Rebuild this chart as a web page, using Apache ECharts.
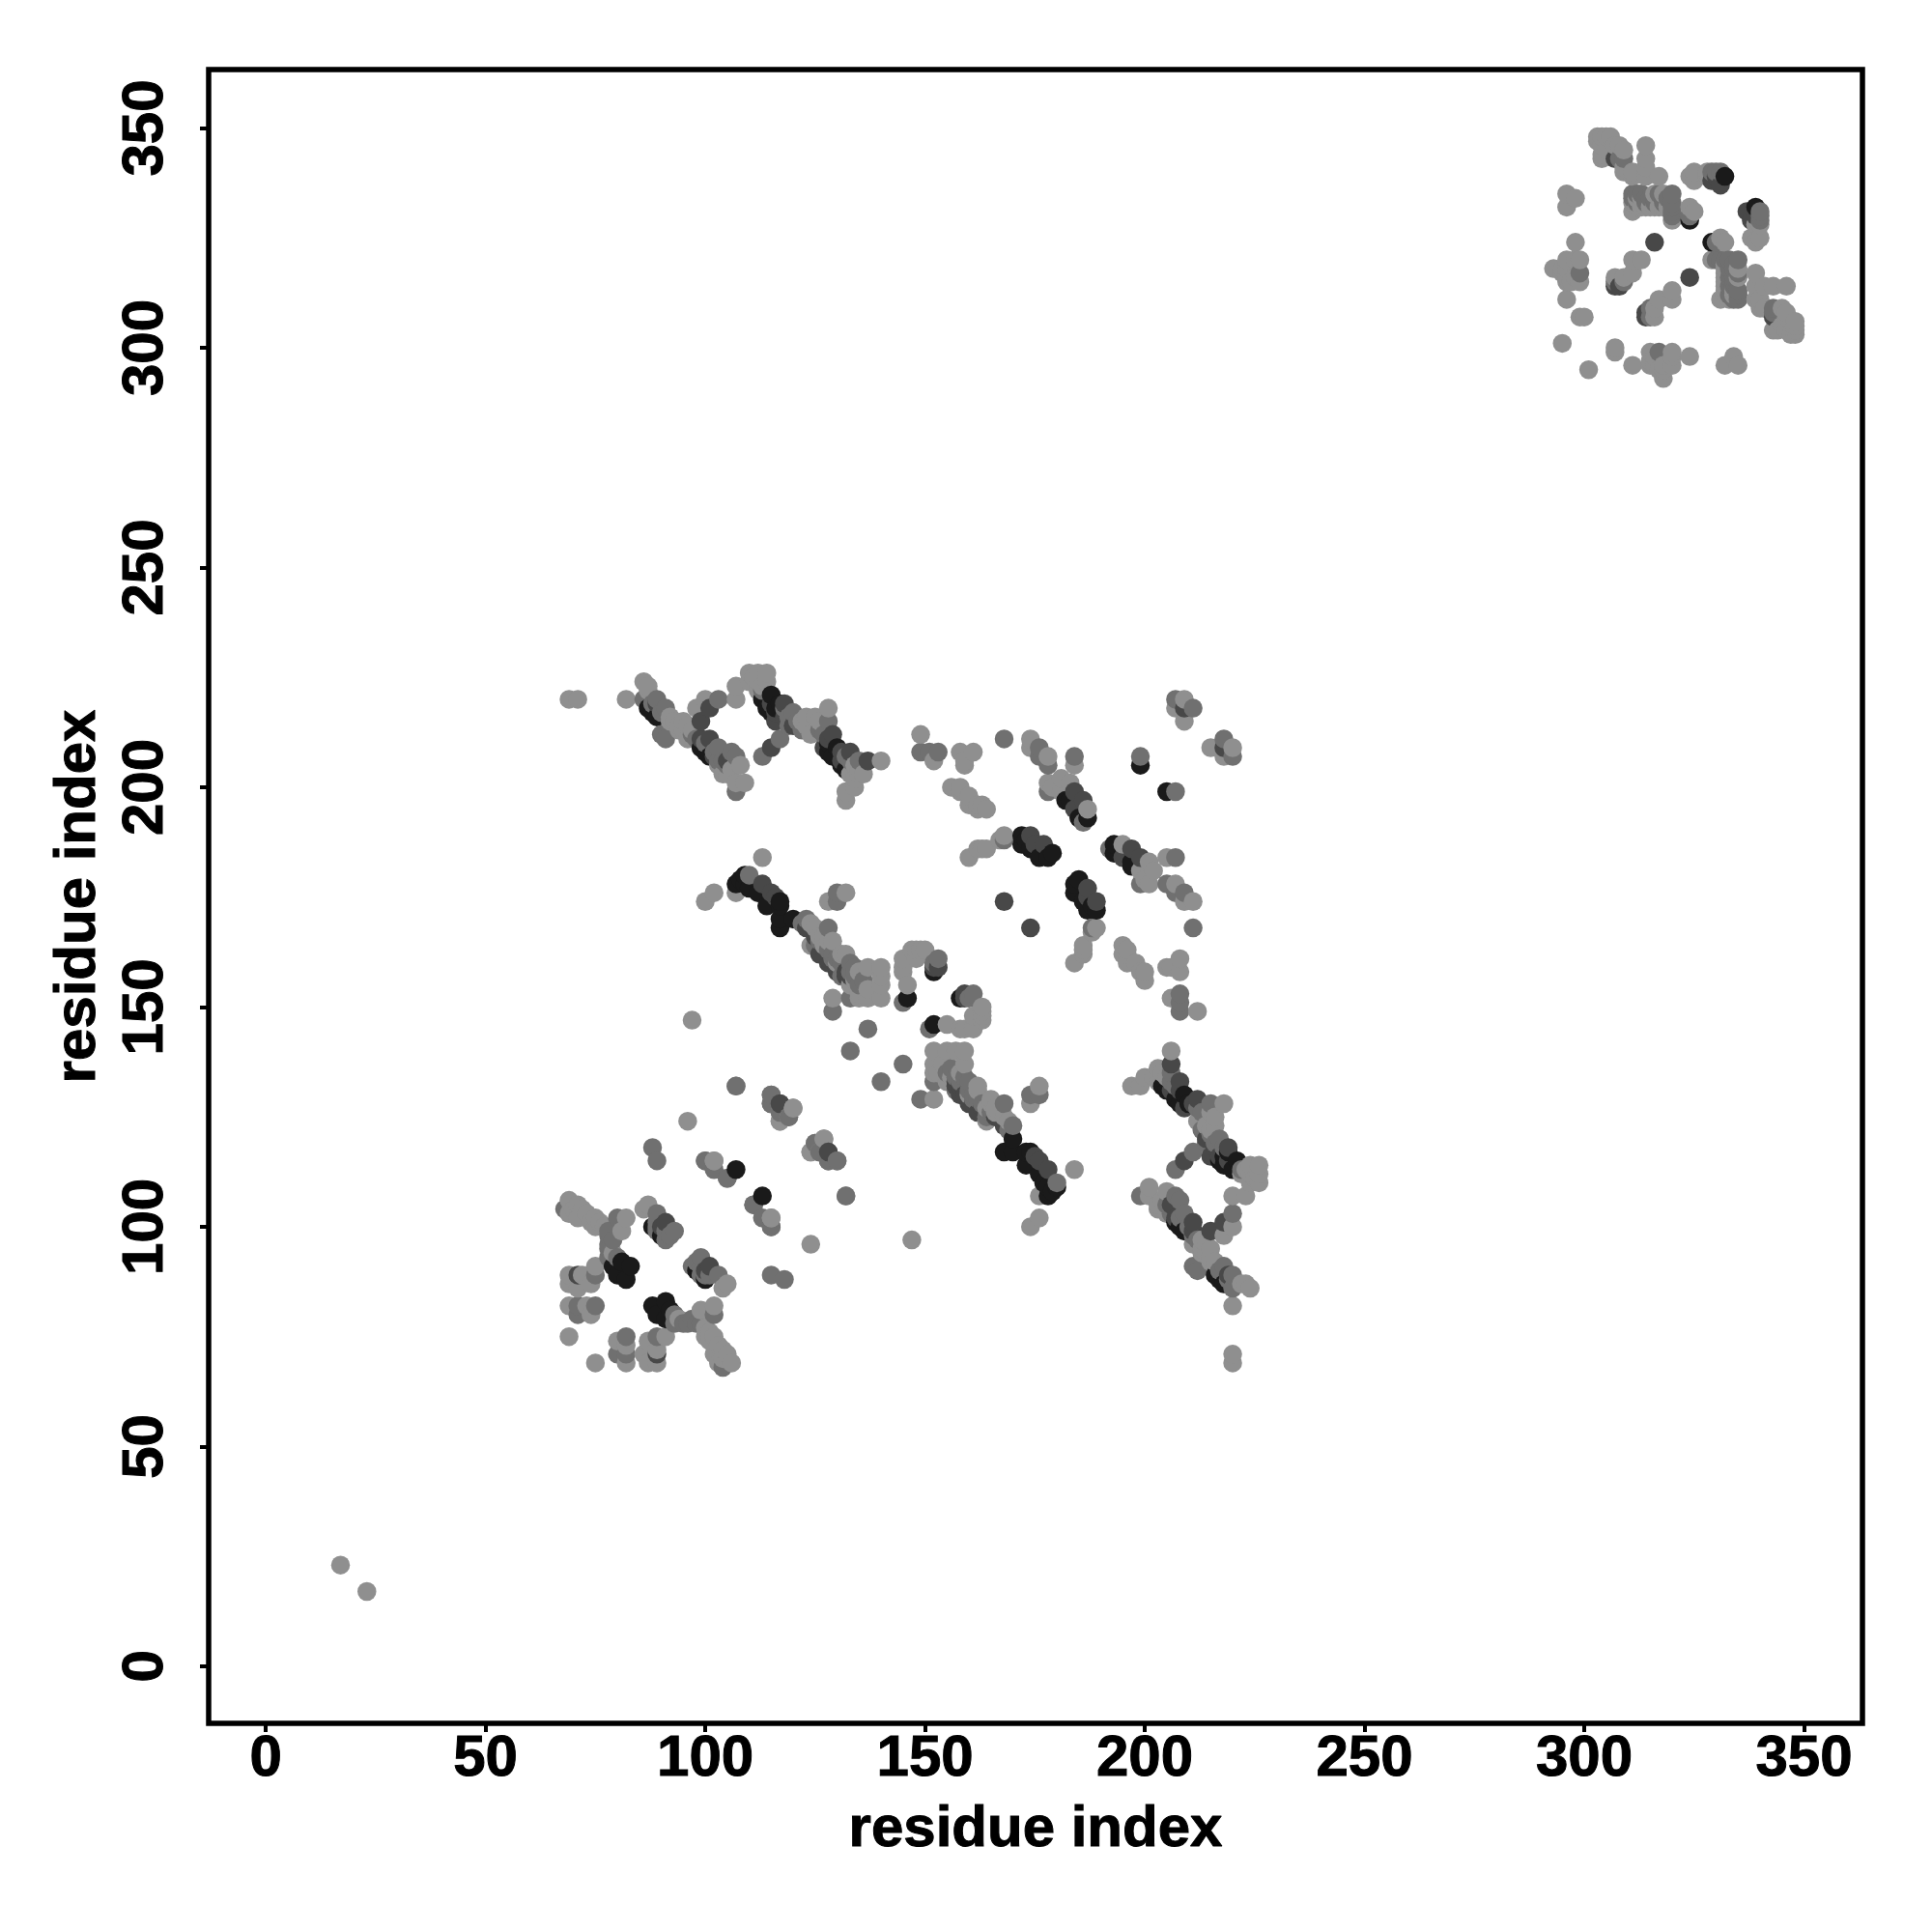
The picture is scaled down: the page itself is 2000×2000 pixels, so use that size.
<!DOCTYPE html>
<html><head><meta charset="utf-8">
<style>html,body{margin:0;padding:0;background:#fff}#c{width:2000px;height:2000px}</style>
<script src="https://cdn.jsdelivr.net/npm/echarts@6/dist/echarts.min.js"></script>
</head><body><div id="c"></div>
<script>
// Residue contacts: [i, j]. The map is symmetric, so each contact shows at (i,j) and (j,i).
const tickLabels = [0, 50, 100, 150, 200, 250, 300, 350];
const axisTitle = "residue index";
const shadeColors = { light: "#8f8f8f", mid: "#707070", dark: "#484848", black: "#1a1a1a" };

const lightContacts = [
 [17,23],
 [295,301],[299,307],[300,307],[296,335],[296,332],[298,334],[298,324],[293,318],[296,311],[296,320],[298,320],[299,320],[295,318],[296,316],[299,315],[297,315],[296,315],[298,316],[296,318],[295,317],
 [311,320],[313,320],[311,317],[309,316],[307,316],
 [303,348],[304,348],[305,348],[306,348],[303,347],[304,346],[304,344],[304,343],[305,345],[307,346],[308,346],[309,345],[309,341],[309,340],[311,340],[311,339],[314,339],[317,339],[314,346],[314,343],[314,341],
 [311,333],[311,331],[312,334],[313,334],[313,332],[314,332],[315,332],[317,332],[319,332],[320,329],[324,332],[325,331],[312,332],[316,332],[318,332],[316,335],[318,335],
 [324,339],[325,340],[325,338],[328,339],[328,340],
 [69,220],[71,220],[82,220],[86,224],[87,223],[87,222],[92,216],[93,215],[95,215],[96,214],[94,213],[96,211],[97,213],[98,218],[100,220],[107,223],[107,220],[110,226],[112,226],[114,226],[111,225],[110,224],[112,224],[114,224],[123,216],[125,216],[124,212],[126,215],[128,218],[108,205],[103,205],[105,203],[107,201],[109,201],[140,206],[136,203],[134,202],[134,200],[132,197],[132,199],[135,204],
 [92,215],[94,214],[95,213],[106,204],[104,203],[112,222],[113,223],[122,215],[123,214],[134,205],[135,203],[133,203],
 [100,174],[102,176],[107,176],[113,184],[125,168],[128,174],[132,176],[124,164],[129,165],[132,162],[137,159],[124,169],[126,166],[127,164],[134,156],[133,155],[129,152],[135,152],[137,152],[140,152],[140,155],[140,157],[140,159],[97,147],
 [130,160],[131,162],[135,158],[127,166],[128,165],[137,154],[135,153],
 [145,161],[145,159],[146,155],[147,163],[149,163],[148,161],[150,163],[148,163],[145,158],
 [149,212],[152,206],[158,208],[161,208],[159,205],[159,206],[156,200],[158,200],[160,198],[162,196],[164,195],[160,196],[162,195],[158,199],[163,196],[174,211],[174,209],[178,207],[178,201],[181,202],[183,201],[181,199],[179,200],[187,195],[184,205],[160,184],[162,186],[164,186],[163,186],[167,188],[168,189],
 [209,220],[207,218],[209,215],
 [69,106],[71,105],[69,103],[70,104],[71,102],[75,102],[75,100],[82,102],[81,99],[75,91],[72,89],[69,89],[69,87],[71,86],[74,87],[69,82],[73,82],[74,80],[69,75],[86,104],[87,105],
 [72,104],[73,103],[74,101],[76,101],[77,100],[79,94],
 [107,132],[96,124],[120,127],[117,124],[102,115],[115,102],[124,117],[125,119],[127,120],[126,117]
];
const midContacts = [
 [299,317],[309,315],[307,315],[311,335],[315,334],[316,334],[317,335],[318,334],[320,335],[320,333],[320,330],[320,332],[324,330],[329,340],[331,340],[330,340],[308,343],[309,343],
 [312,335],[314,334],[320,331],[311,334],[312,333],[314,333],[316,333],[318,333],[319,334],[313,335],
 [86,220],[89,220],[91,218],[91,211],[90,212],[103,220],[103,209],[107,207],[106,208],[107,199],[120,217],[118,218],[117,211],[113,207],[128,215],[119,214],
 [88,219],[90,217],[97,212],[98,211],[100,210],[102,208],[103,206],[104,206],[105,205],
 [113,222],[119,216],[121,215],[122,213],[126,213],[127,212],[132,207],[133,206],[135,206],
 [110,180],[123,170],[128,168],[130,174],[130,176],[133,160],[135,155],[134,159],[131,160],[130,161],[128,163],[126,165],[133,152],[129,149],[137,145],[133,140],
 [122,169],[125,164],[129,162],[131,157],[133,158],[134,157],[136,156],[129,161],
 [145,151],[153,161],[152,160],
 [149,208],[151,208],[153,208],[168,211],[176,209],[176,207],[178,205],[184,207],[178,199],[186,192],[168,188],
 [207,220],[211,218],[199,207],
 [68,104],[80,102],[78,96],[78,93],[78,99],[75,89],[71,82],[71,80],[75,82],[89,103],[93,99],[91,97],[89,99],
 [78,98],[79,97],[78,95],[80,93],[89,101],[91,99],[92,98],[89,100],
 [88,118],[89,115],[100,115],[102,113],[105,111],[111,105],[115,100],[115,130],[115,128],[117,126],[119,125],[128,117],[128,115],[130,115],[132,107]
];
const darkContacts = [
 [307,343],[329,338],[330,339],[331,337],[316,324],[307,314],[308,314],
 [99,215],[101,218],[101,211],[118,219],[116,215],[120,214],[115,209],[129,212],[127,209],[133,208],[137,206],[89,219],[131,206],
 [99,211],[102,207],[105,206],[115,219],[116,217],[118,216],[128,211],[131,208],
 [113,178],[115,176],[116,175],[126,162],[128,160],[130,158],[128,161],[130,159],[133,157],
 [123,168],[125,166],[127,163],[132,158],[132,157],
 [153,159],[152,159],[174,189],[175,187],[177,187],[184,199],[184,195],[186,197],
 [168,174],[209,218],[71,89],[91,101],[90,100],[117,128]
];
const blackContacts = [
 [324,329],[332,339],
 [87,218],[88,217],[89,216],[99,209],[100,208],[101,207],[113,220],[115,221],[114,218],[115,217],[130,209],[129,207],[131,205],[128,208],
 [116,218],[117,219],[128,210],[132,204],
 [107,178],[109,178],[109,180],[108,179],[110,177],[112,176],[117,174],[114,173],[117,173],[117,170],[117,168],[120,170],
 [146,152],[152,158],[182,197],[183,197],[185,193],[187,193],[199,205],
 [172,189],[172,187],[173,188],[174,186],[176,184],[178,184],[179,185],
 [79,91],[81,92],[83,91],[80,89],[82,88],[88,100],[90,98],[107,113]
];

const shadeLists = { light: lightContacts, mid: midContacts, dark: darkContacts, black: blackContacts };
const drawn = [];
for (const shade in shadeLists) {
  for (const [i, j] of shadeLists[shade]) {
    drawn.push({ value: [i, j], itemStyle: { color: shadeColors[shade] } });
    drawn.push({ value: [j, i], itemStyle: { color: shadeColors[shade] } });
  }
}
// Marks are painted column by column, lower rows first.
drawn.sort((a, b) => a.value[0] - b.value[0] || a.value[1] - b.value[1]);

const font = "'Liberation Sans', Arial, Helvetica, sans-serif";
const textStyle = { fontFamily: font, fontWeight: "bold", fontSize: 60, color: "#000", textBorderColor: "#000", textBorderWidth: 1 };
const chart = echarts.init(document.getElementById("c"), null, { renderer: "canvas" });
chart.setOption({
  animation: false,
  backgroundColor: "#fff",
  grid: { left: 216, right: 72, top: 72, bottom: 216, containLabel: false, show: true, borderColor: "#000", borderWidth: 5.5, backgroundColor: "transparent" },
  xAxis: {
    type: "value", min: -13, max: 363.3,
    name: axisTitle, nameLocation: "center", nameGap: 80,
    nameTextStyle: textStyle,
    axisLine: { show: false, onZero: false },
    axisTick: { show: true, length: 9, lineStyle: { width: 4, color: "#000" }, customValues: tickLabels },
    axisLabel: Object.assign({ show: true, margin: 7, customValues: tickLabels, hideOverlap: false, showMinLabel: true, showMaxLabel: true }, textStyle),
    splitLine: { show: false }
  },
  yAxis: {
    type: "value", min: -13, max: 363.3,
    name: axisTitle, nameLocation: "center", nameGap: 105, nameRotate: 90,
    nameTextStyle: textStyle,
    axisLine: { show: false, onZero: false },
    axisTick: { show: true, length: 9, lineStyle: { width: 4, color: "#000" }, customValues: tickLabels },
    axisLabel: Object.assign({ show: true, margin: 35, rotate: 90, customValues: tickLabels, hideOverlap: false, showMinLabel: true, showMaxLabel: true }, textStyle),
    splitLine: { show: false }
  },
  series: [{ type: "scatter", symbol: "circle", symbolSize: 19.5, data: drawn, silent: true, itemStyle: { opacity: 1 }, large: false, progressive: 0 }]
});
</script></body></html>
